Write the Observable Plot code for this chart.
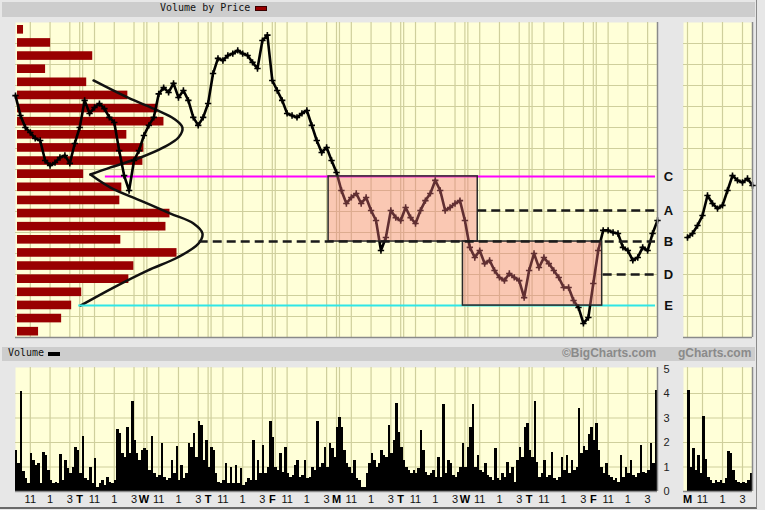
<!DOCTYPE html>
<html><head><meta charset="utf-8">
<script src="https://cdn.jsdelivr.net/npm/d3@7"></script>
<script src="https://cdn.jsdelivr.net/npm/@observablehq/plot@0.6"></script>
<style>
html,body{margin:0;padding:0;background:#e6e6e6;}
#root{position:relative;width:765px;height:510px;overflow:hidden;background:#e7e7e7;font-family:'Liberation Sans',Arial,sans-serif;}
.abs{position:absolute;}
.abs svg{overflow:visible;display:block;}
.strip{position:absolute;background:#cdcdcd;}
.mono{font-family:'DejaVu Sans Mono',monospace;font-size:10px;color:#111;white-space:nowrap;}
.brand{font-weight:bold;font-size:12px;color:#8a8a8a;white-space:nowrap;}
</style></head>
<body><div id="root"></div>
<script>
// ---------------- DATA ----------------
// Close price every 30 minutes (13 per session, 10 sessions, plus final close)
const priceMain = [
  11.52,10.57,10.0,9.76,9.48,9.38,8.43,8.19,8.33,8.57,8.67,8.29,9.24,
  10.0,11.29,10.67,10.95,11.14,10.90,10.48,10.24,8.90,7.71,7.0,8.43,8.90,
  9.62,10.10,10.48,11.60,11.90,11.67,12.10,11.43,11.76,11.29,10.48,10.10,10.48,
  11.14,12.57,13.29,13.19,13.43,13.52,13.67,13.52,13.43,13.10,12.81,14.14,14.40,
  12.24,11.76,11.29,10.67,10.57,10.48,10.67,10.81,10.10,9.38,8.81,9.05,8.43,
  7.86,7.0,6.38,6.67,6.86,6.38,6.67,6.05,5.57,4.14,4.76,6.05,5.71,
  5.57,6.19,5.71,5.43,6.05,6.52,6.86,7.48,7.0,6.05,6.19,6.38,6.52,
  5.57,4.29,3.81,4.14,3.52,3.67,3.19,2.86,2.71,3.05,2.86,2.71,1.90,
  3.19,4.0,3.33,3.81,3.52,3.19,2.86,2.38,2.38,1.76,1.43,0.67,0.95,
  2.57,4.14,5.10,5.10,5.0,4.95,4.29,4.14,3.67,3.81,4.29,4.14,4.95,
  5.57
];
const priceMini = [4.76,4.95,5.33,5.81,6.76,6.38,6.14,6.29,7.0,7.71,7.48,7.38,7.57,7.24];

// Volume (millions) every 15 minutes (26 per session)
const volumeMain = [
  1.67,1.13,4.08,0.8,0.52,0.31,1.54,1.27,1.06,1.13,0.31,1.6,1.47,0.86,0.45,0.31,0.38,0.31,1.51,0.45,1.27,0.93,0.72,0.99,1.81,1.67,
  0.72,2.26,0.52,0.45,0.99,0.31,1.36,0.18,0.31,0.45,0.24,0.59,0.38,0.31,0.45,2.52,2.35,1.54,1.4,2.6,1.54,3.67,2.08,1.54,1.27,1.67,
  1.74,1.67,0.86,2.24,0.72,0.59,0.65,1.97,0.59,0.45,0.52,1.27,0.72,1.84,0.45,1.06,0.52,0.72,1.95,1.81,2.35,1.4,2.87,2.69,1.27,2.08,
  0.99,1.81,1.67,0.72,0.38,0.31,0.45,1.13,0.31,0.99,0.31,1.06,0.31,0.93,0.24,0.38,0.52,0.45,2.08,0.45,1.27,0.72,1.88,0.72,0.99,2.87,
  2.22,0.99,0.86,1.54,0.79,1.78,0.72,0.59,0.65,1.06,1.27,0.59,0.65,1.27,0.52,0.59,0.99,0.86,2.86,0.99,1.13,1.81,0.99,1.95,1.74,1.4,
  2.6,3.0,2.63,1.67,1.13,0.99,0.72,1.27,0.52,0.45,0.18,0.18,0.72,1.13,1.54,1.27,0.99,1.13,1.67,1.47,1.4,2.69,1.54,2.08,3.58,2.42,
  1.81,1.27,0.99,0.86,0.72,0.86,0.72,0.93,2.49,1.67,0.79,0.65,0.72,0.86,0.59,1.4,0.59,3.55,0.72,1.27,1.13,0.65,0.59,0.79,0.99,1.95,
  0.99,1.81,2.63,3.55,0.99,1.47,0.86,0.79,1.13,0.65,0.59,0.45,1.74,0.52,0.45,0.72,0.59,1.2,0.72,0.99,0.38,1.27,1.81,1.4,2.6,2.76,
  1.67,1.4,3.67,1.2,0.59,0.72,1.27,0.59,0.65,1.6,0.52,0.45,0.59,1.4,0.86,1.47,0.72,1.27,0.86,0.99,3.37,1.54,1.84,1.67,2.31,2.63,
  2.08,2.76,1.67,0.99,0.72,1.13,0.65,0.59,0.45,0.52,0.38,1.47,0.59,0.99,0.72,1.27,0.65,0.59,0.72,1.88,0.79,0.72,0.86,1.95,1.13,4.12
];
const volumeMini = [4.12,0.99,1.74,0.86,1.47,0.72,3.06,1.29,0.59,0.45,0.31,0.45,0.38,0.45,0.31,0.52,1.63,1.54,0.86,0.45,0.38,0.31,0.38,0.31,0.45,0.75];

// Volume by price, highest price bucket first
const vbpVolume = [3,16.5,37.5,14,34.5,55,70,73,54.5,63,62.5,33,52,51,76,74,51.5,79.5,58,55.5,32,27,22,10.5];

// Axis / tick labels
const dayLetters = ["","T","W","T","F","M","T","W","T","F"];
const miniDayLetter = "M";
const hourLabels = ["11","1","3"];
const hourOffsets = [1.5,3.5,5.5];   // hours after the 9:30 open
const volumeTicks = [0,1,2,3,4,5];

// Annotations
const levelLabels = ["C","A","B","D","E"];
const levelPrices = [7.67,6.05,4.57,3.0,1.52];
const levelStarts = [9.1,46.8,18.6,59.5,6.4];
const boxStarts = [31.7,45.3];
const boxEnds = [46.8,59.4];
const boxTops = [7.67,4.57];
const boxBottoms = [4.57,1.52];
const curveUpper = [[7.90,12.24],[11.34,11.43],[14.38,10.81],[16.0,10.43],[16.9,10.0],[16.5,9.52],[14.98,9.05],[12.66,8.57],[9.62,8.10],[7.59,7.76]];
const curveLower = [[7.59,7.76],[9.62,7.14],[12.66,6.52],[15.69,5.90],[18.02,5.43],[18.93,4.95],[18.53,4.48],[16.40,3.81],[13.36,3.19],[9.92,2.38],[6.58,1.52]];

// ---------------- BUILD ----------------
const SESSION = 6.5, DAYS = 10, TOTAL = SESSION*DAYS;
const BG = "#ffffd8", GRID = "#cfcf9c";
const root = document.getElementById("root");
function place(node, left, top){
  const d = document.createElement("div"); d.className="abs"; d.style.left=left+"px"; d.style.top=top+"px";
  d.appendChild(node); root.appendChild(d); return d;
}
const baseStyle = {background:"transparent", overflow:"visible", maxWidth:"none", fontFamily:"'Liberation Sans',Arial,sans-serif", fontSize:"11px", color:"#111"};

function strip(l,t,w,h){const s=document.createElement("div");s.className="strip";Object.assign(s.style,{left:l+"px",top:t+"px",width:w+"px",height:h+"px"});root.appendChild(s);return s;}
strip(2,2,753,15);
strip(2,347,753,14);
const frameDiv=document.createElement("div");Object.assign(frameDiv.style,{position:"absolute",left:"0px",top:"0px",width:"756px",height:"507px",borderRight:"1px solid #8a8a8a",borderBottom:"2px solid #6a6a6a"});root.appendChild(frameDiv);

function textDiv(cls, txt, l, t){const s=document.createElement("div");s.className=cls;s.textContent=txt;Object.assign(s.style,{position:"absolute",left:l+"px",top:t+"px"});root.appendChild(s);return s;}
textDiv("mono","Volume by Price",160,2);
const sw1=document.createElement("div");Object.assign(sw1.style,{position:"absolute",left:"255px",top:"6px",width:"10px",height:"3px",background:"#990000",border:"1px solid #3a0000"});root.appendChild(sw1);
textDiv("mono","Volume",8,347);
const sw2=document.createElement("div");Object.assign(sw2.style,{position:"absolute",left:"48px",top:"352px",width:"12px",height:"4px",background:"#000"});root.appendChild(sw2);
const b1=textDiv("brand","\u00A9BigCharts.com",0,346); b1.style.left=(656-b1.offsetWidth)+"px";
const b2=textDiv("brand","gCharts.com",0,346); b2.style.left=(751-b2.offsetWidth)+"px";

// grid positions (hours)
const gridX = [];
for (let d=0; d<DAYS; d++){ for (const o of hourOffsets) gridX.push(d*SESSION+o); if (d>0){ gridX.push(d*SESSION); gridX.push(d*SESSION+0.3);} }
const gridXMini = [0, ...hourOffsets];

const priceSeries = priceMain.map((p,i)=>({h:i*0.5, p}));
const priceSeriesMini = priceMini.map((p,i)=>({h:i*0.5, p}));
const volBars = volumeMain.map((v,i)=>({x1:i*0.25, x2:(i+1)*0.25, v}));
const volBarsMini = volumeMini.map((v,i)=>({x1:i*0.25, x2:(i+1)*0.25, v}));
const nb = vbpVolume.length;
const vbp = vbpVolume.map((v,i)=>({v, hi:15 - i*15/nb, lo:15-(i+1)*15/nb}));
const levels = levelLabels.map((l,i)=>({label:l, price:levelPrices[i], start:levelStarts[i], end:TOTAL-0.2}));
const boxes = boxStarts.map((s,i)=>({start:s, end:boxEnds[i], top:boxTops[i], bottom:boxBottoms[i]}));
const levelColor = {C:"#ff00ff", E:"#2fe6e6"};

const W = 642, H = 315;

// A: price panel background + grid
place(Plot.plot({width:W, height:H, margin:0, style:baseStyle,
  x:{domain:[0,TOTAL], axis:null}, y:{domain:[0,15], axis:null},
  marks:[
    Plot.frame({fill:BG, stroke:null}),
    Plot.ruleX(gridX,{stroke:GRID, strokeWidth:1.2}),
    Plot.ruleY(d3.range(1,15),{stroke:GRID, strokeWidth:1.2})
  ]}), 15, 22);

// B: volume by price
place(Plot.plot({width:W, height:H, margin:0, style:baseStyle,
  x:{domain:[0,320], axis:null}, y:{domain:[0,15], axis:null},
  marks:[
    Plot.rect(vbp,{x1:0, x2:"v", y1:"lo", y2:"hi", fill:"#990000", insetTop:3, insetBottom:1.5, dx:2})
  ]}), 15, 22);

// C: price + annotations
place(Plot.plot({width:W+30, height:H, margin:0, marginRight:30, style:baseStyle,
  x:{domain:[0,TOTAL], axis:null}, y:{domain:[0,15], axis:null},
  marks:[
    Plot.line(curveUpper,{x:d=>d[0], y:d=>d[1], curve:"catmull-rom", stroke:"#111", strokeWidth:2.5}),
    Plot.line(curveLower,{x:d=>d[0], y:d=>d[1], curve:"catmull-rom", stroke:"#111", strokeWidth:2.5}),
    Plot.ruleY(levels.filter(d=>levelColor[d.label]),{y:"price", x1:"start", x2:"end", stroke:d=>levelColor[d.label], strokeWidth:2}),
    Plot.line(priceSeries,{x:"h", y:"p", stroke:"#000", strokeWidth:2.6}),
    Plot.dot(priceSeries,{x:"h", y:"p", symbol:"plus", r:2.2, stroke:"#000", strokeWidth:1.6}),
    Plot.rect(boxes,{x1:"start", x2:"end", y1:"bottom", y2:"top", fill:"#f2757e", fillOpacity:0.4}),
    Plot.rect(boxes,{x1:"start", x2:"end", y1:"bottom", y2:"top", fill:"none", stroke:"#2a2a2a", strokeWidth:1.5}),
    Plot.ruleY(levels.filter(d=>!levelColor[d.label]),{y:"price", x1:"start", x2:"end", stroke:"#1a1a1a", strokeWidth:2.5, strokeDasharray:"9,5"}),
    Plot.text(levels,{x:TOTAL, y:"price", text:"label", dx:11, fontWeight:"bold", fontSize:13, fill:"#111"}),
    Plot.ruleX([TOTAL],{stroke:"#8a8a8a", strokeWidth:1.5}),
    Plot.ruleY([0],{stroke:"#8a8a8a", strokeWidth:1.5})
  ]}), 15, 22);

// mini price panel
place(Plot.plot({width:69, height:H, margin:0, style:baseStyle,
  x:{domain:[-0.4,6.5], axis:null}, y:{domain:[0,15], axis:null},
  marks:[
    Plot.frame({fill:BG, stroke:null}),
    Plot.ruleX(gridXMini,{stroke:GRID, strokeWidth:1.2}),
    Plot.ruleY(d3.range(1,15),{stroke:GRID, strokeWidth:1.2}),
    Plot.line(priceSeriesMini,{x:"h", y:"p", stroke:"#000", strokeWidth:2.6}),
    Plot.dot(priceSeriesMini,{x:"h", y:"p", symbol:"plus", r:2.2, stroke:"#000", strokeWidth:1.6}),
    Plot.ruleX([6.5],{stroke:"#8a8a8a", strokeWidth:1.5}),
    Plot.ruleY([0],{stroke:"#8a8a8a", strokeWidth:1.5})
  ]}), 683, 22);

// x labels
const hourLabelData = [];
for (let d=0; d<DAYS; d++) hourOffsets.forEach((o,k)=>hourLabelData.push({x:d*SESSION+o, t:hourLabels[k]}));
const dayLabelData = dayLetters.map((t,d)=>({x:d*SESSION, t})).filter(d=>d.t);
const hourLabelMini = hourOffsets.map((o,k)=>({x:o, t:hourLabels[k]}));

const VH = 124;
// volume panel
place(Plot.plot({width:W+28, height:VH+16, margin:0, marginRight:28, marginBottom:16, style:baseStyle,
  x:{domain:[0,TOTAL], axis:null}, y:{domain:[0,5.06], axis:null},
  marks:[
    Plot.frame({fill:BG, stroke:null}),
    Plot.ruleX(gridX,{stroke:GRID, strokeWidth:1.2}),
    Plot.ruleY([1,2,3,4],{stroke:GRID, strokeWidth:1.2}),
    Plot.rect(volBars,{x1:"x1", x2:"x2", y1:0, y2:"v", fill:"#000", shapeRendering:"crispEdges"}),
    Plot.text(volumeTicks,{x:TOTAL, y:d=>d, text:d=>String(d), dx:6, textAnchor:"start", fontSize:11, fill:"#222"}),
    Plot.text(hourLabelData,{x:"x", text:"t", frameAnchor:"bottom", dy:8, lineAnchor:"middle", fontSize:11, fill:"#111"}),
    Plot.text(dayLabelData,{x:"x", text:"t", frameAnchor:"bottom", dy:8, lineAnchor:"middle", fontSize:11, fontWeight:"bold", fill:"#000"}),
    Plot.ruleX([TOTAL],{stroke:"#8a8a8a", strokeWidth:1.5}),
    Plot.ruleY([0],{stroke:"#8a8a8a", strokeWidth:1.5})
  ]}), 15, 367);

// mini volume panel
place(Plot.plot({width:69, height:VH+16, margin:0, marginBottom:16, style:baseStyle,
  x:{domain:[-0.4,6.5], axis:null}, y:{domain:[0,5.06], axis:null},
  marks:[
    Plot.frame({fill:BG, stroke:null}),
    Plot.ruleX(gridXMini,{stroke:GRID, strokeWidth:1.2}),
    Plot.ruleY([1,2,3,4],{stroke:GRID, strokeWidth:1.2}),
    Plot.rect(volBarsMini,{x1:"x1", x2:"x2", y1:0, y2:"v", fill:"#000", shapeRendering:"crispEdges"}),
    Plot.text(hourLabelMini,{x:"x", text:"t", frameAnchor:"bottom", dy:8, lineAnchor:"middle", fontSize:11, fill:"#111"}),
    Plot.text([miniDayLetter],{x:0, text:d=>d, frameAnchor:"bottom", dy:8, lineAnchor:"middle", fontSize:11, fontWeight:"bold", fill:"#000"}),
    Plot.ruleX([6.5],{stroke:"#8a8a8a", strokeWidth:1.5}),
    Plot.ruleY([0],{stroke:"#8a8a8a", strokeWidth:1.5})
  ]}), 683, 367);
</script></body></html>
